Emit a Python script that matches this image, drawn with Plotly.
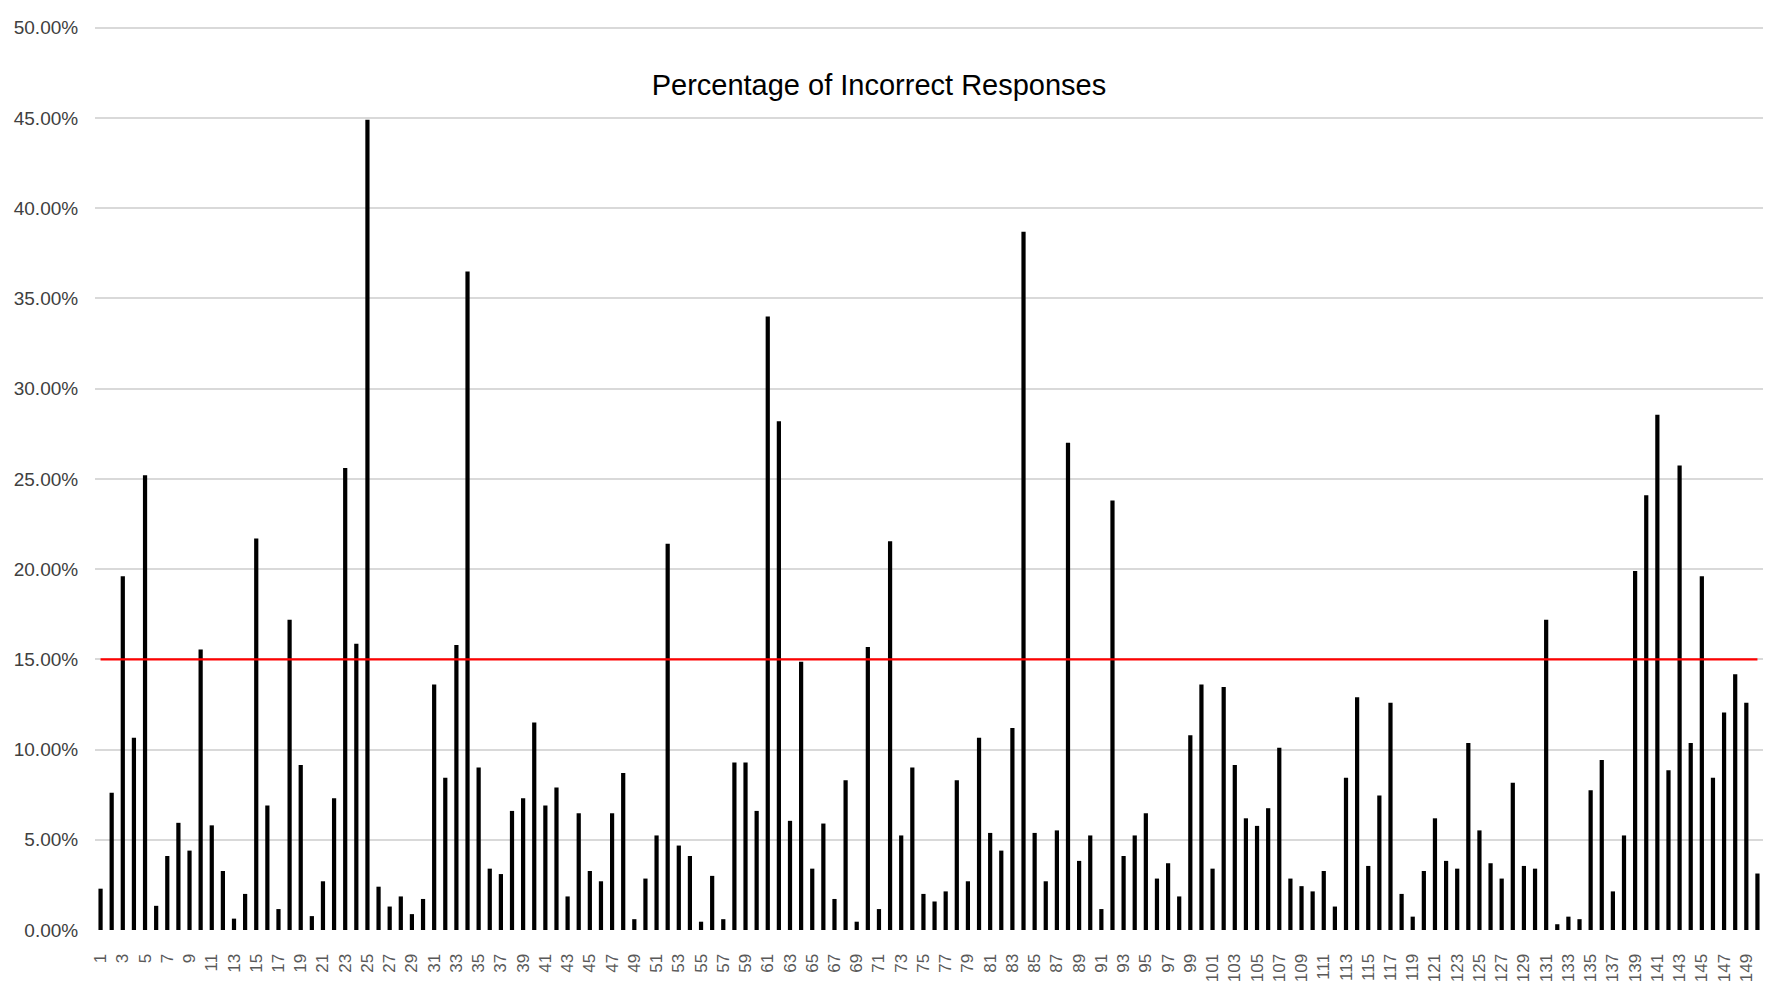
import plotly.graph_objects as go

# ---- data ----
questions = list(range(1, 151))
pct_incorrect = [
    2.29, 7.6, 19.6, 10.65, 25.2, 1.34, 4.1, 5.94, 4.4, 15.54,
    5.8, 3.27, 0.63, 2.0, 21.7, 6.9, 1.16, 17.2, 9.14, 0.77,
    2.7, 7.3, 25.6, 15.86, 44.9, 2.4, 1.3, 1.86, 0.88, 1.72,
    13.6, 8.44, 15.8, 36.5, 9.0, 3.4, 3.1, 6.6, 7.3, 11.5,
    6.9, 7.9, 1.86, 6.47, 3.27, 2.7, 6.47, 8.7, 0.6, 2.85,
    5.24, 21.4, 4.68, 4.1, 0.46, 3.0, 0.6, 9.28, 9.28, 6.6,
    34.0, 28.2, 6.05, 14.87, 3.4, 5.9, 1.72, 8.3, 0.46, 15.68,
    1.16, 21.55, 5.24, 9.0, 2.0, 1.58, 2.14, 8.3, 2.7, 10.65,
    5.38, 4.4, 11.2, 38.7, 5.38, 2.7, 5.52, 27.0, 3.83, 5.24,
    1.16, 23.8, 4.1, 5.24, 6.47, 2.85, 3.7, 1.86, 10.8, 13.6,
    3.4, 13.47, 9.14, 6.19, 5.77, 6.75, 10.1, 2.85, 2.43, 2.14,
    3.27, 1.3, 8.44, 12.9, 3.55, 7.45, 12.6, 2.0, 0.74, 3.27,
    6.19, 3.83, 3.4, 10.37, 5.52, 3.7, 2.85, 8.16, 3.55, 3.4,
    17.2, 0.32, 0.74, 0.6, 7.74, 9.42, 2.14, 5.24, 19.9, 24.1,
    28.55, 8.86, 25.74, 10.37, 19.6, 8.44, 12.06, 14.17, 12.6, 3.13,
]
threshold_pct = 15.0
x_tick_vals = questions[::2]
x_tick_text = [str(q) for q in x_tick_vals]
y_tick_vals = [0, 5, 10, 15, 20, 25, 30, 35, 40, 45, 50]
y_tick_text = ["%.2f%%" % v for v in y_tick_vals]

FONT = "Liberation Sans, Arial, sans-serif"

fig = go.Figure()
fig.add_trace(go.Bar(
    x=questions, y=pct_incorrect,
    marker=dict(color="#000000", line=dict(width=0)),
    width=0.38, showlegend=False,
))
fig.add_trace(go.Scatter(
    x=questions, y=[threshold_pct] * len(questions),
    mode="lines", line=dict(color="#ff0000", width=2.2),
    showlegend=False,
))

fig.update_layout(
    width=1763, height=989,
    margin=dict(l=87, r=8, t=18, b=67, autoexpand=False),
    paper_bgcolor="white", plot_bgcolor="white",
    title=dict(
        text="Percentage of Incorrect Responses",
        font=dict(family=FONT, size=29, color="#000000"),
        x=0.47, xref="paper", xanchor="center",
        y=0.922, yref="container", yanchor="middle",
    ),
    xaxis=dict(
        range=[0.5, 150.5],
        tickmode="array", tickvals=x_tick_vals, ticktext=x_tick_text,
        tickangle=-90,
        tickfont=dict(family=FONT, size=17, color="#595959"),
        ticks="outside", ticklen=16, tickcolor="rgba(0,0,0,0)",
        showgrid=False, zeroline=False, showline=False,
        automargin=False,
    ),
    yaxis=dict(
        range=[0, 50.1],
        tickmode="array", tickvals=y_tick_vals, ticktext=y_tick_text,
        tickfont=dict(family=FONT, size=19, color="#404040"),
        ticks="outside", ticklen=12, tickcolor="rgba(0,0,0,0)",
        showgrid=True, gridcolor="#d9d9d9", gridwidth=1.5,
        zeroline=False, showline=False,
        automargin=False,
    ),
    bargap=0.62,
)

fig.write_html("out.html")
